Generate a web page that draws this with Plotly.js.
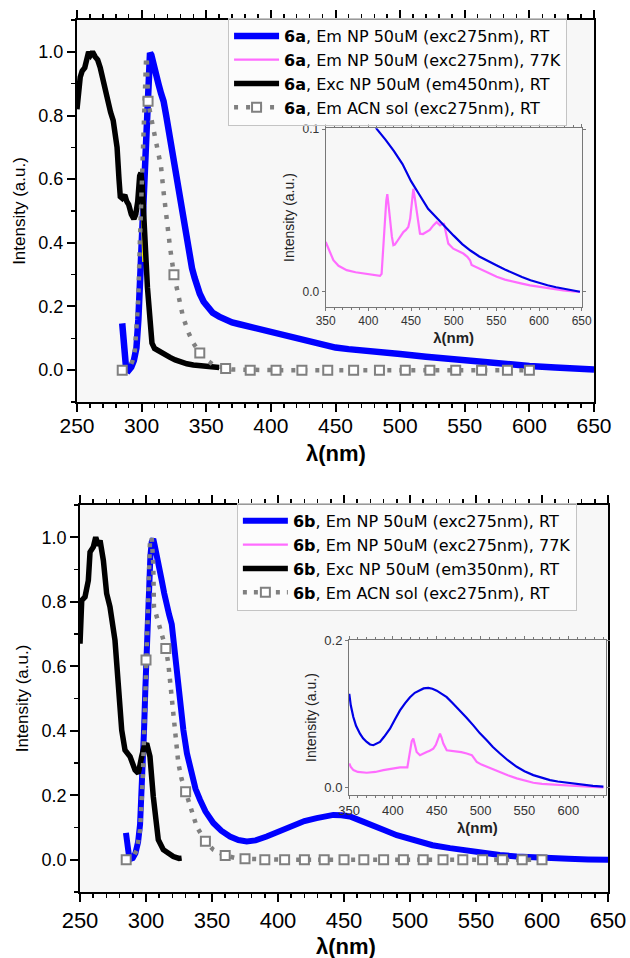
<!DOCTYPE html>
<html>
<head>
<meta charset="utf-8">
<script src="https://cdn.plot.ly/plotly-3.0.1.min.js"></script>
<style>html,body{margin:0;padding:0;background:#fff;}#chart{width:630px;height:958px;}</style>
</head>
<body>
<div id="chart"></div>
<script>
// ---------------- Panel 6a (main) ----------------
var blueA_x = [285,286.5,288,290,292,294,296,297.5,299,300.5,301.5,302.5,303.5,304.5,305.5,306.5,307.5,309,311,313,315,317,319,321,323,325,327,329,331,333,335,337,339,341,343,345,348,351,355,360,365,370,375,380,390,400,410,420,430,440,450,460,470,480,490,500,520,540,560,580,600,620,650];
var blueA_y = [0.147,0.07,0.005,0.0,0.01,0.03,0.07,0.16,0.3,0.45,0.57,0.7,0.82,0.91,0.97,0.997,0.99,0.96,0.93,0.9,0.87,0.845,0.8,0.75,0.7,0.66,0.61,0.55,0.49,0.44,0.395,0.355,0.32,0.29,0.262,0.24,0.215,0.197,0.18,0.168,0.158,0.15,0.145,0.14,0.13,0.12,0.108,0.097,0.087,0.078,0.071,0.066,0.061,0.058,0.055,0.051,0.042,0.034,0.027,0.02,0.013,0.008,0.002];

var blackA_x = [250,251,252.5,254,256,257.5,259,260.5,262,264,266,268,270,272,274,276,278,279.5,281,282.5,283.5,285,287,288.5,290,292,294,295.5,297,298.5,299.5,300.5,301.5,302.5,303.5,304.5,305.5,306.5,308,310,313,316,319,322,326,330,335,340,345,350,355,360];
var blackA_y = [0.82,0.88,0.92,0.94,0.95,0.975,1.0,0.99,1.0,0.985,0.975,0.95,0.91,0.88,0.84,0.81,0.785,0.75,0.7,0.6,0.545,0.54,0.55,0.53,0.52,0.49,0.475,0.49,0.53,0.61,0.62,0.58,0.52,0.43,0.34,0.26,0.19,0.13,0.085,0.068,0.06,0.055,0.048,0.04,0.032,0.025,0.02,0.016,0.013,0.011,0.01,0.008];

var yellowA_x = [300,300.8,301.8];
var yellowA_y = [0.61,0.48,0.34];

var acnA_x = [285,288,291,293,294.8,296,297.4,298.7,300,301.3,302.6,303.5,304,305,307,310,313,315,317,319,322,325,328,332,336,340,345,350,355,360,365,370,384,404,424,444,464,484,504,523,543,563,583,600];
var acnA_y = [0,0.002,0.01,0.03,0.063,0.12,0.22,0.41,0.6,0.79,0.93,0.985,0.98,0.845,0.8,0.745,0.69,0.64,0.56,0.48,0.385,0.3,0.24,0.168,0.12,0.085,0.054,0.033,0.018,0.01,0.005,0.002,0,0,0,0,0,0,0,0,0,0,0,0];
var acnA_squares = [285,305,325,345,365,384,404,424,444,464,484,504,523,543,563,583,600];

// ---------------- Panel 6a (inset) ----------------
var insA_blue_x = [400,410,420,430,440,450,460,470,480,490,500,510,520,530,540,550,560,570,580,590,600,610,620,630,640,648];
var insA_blue_y = [0.1085,0.1,0.0935,0.0865,0.0785,0.068,0.0595,0.051,0.0455,0.0398,0.0345,0.0293,0.0252,0.0217,0.0188,0.0163,0.0137,0.0112,0.0091,0.0071,0.0054,0.004,0.0028,0.0018,0.0009,0.0];
var insA_pink_x = [350,355,359,365,374.6,385,394.1,405,413.6,415.5,417.5,419.5,421,422.2,423.5,425.4,427.5,429.3,431,433.2,437,441,444,446.8,449,450.7,452.7,454.6,457,460.5,464,468.4,472,476.1,480,484,486.5,488.6,491,493.7,499.5,505,511.3,516,519.1,521,523,530.8,540,550.4,560,569.9,580,589.4,600,609,620,628.5,640,648];
var insA_pink_y = [0.0306,0.024,0.0194,0.016,0.0133,0.012,0.0112,0.0105,0.0098,0.011,0.025,0.044,0.056,0.06,0.054,0.044,0.034,0.0286,0.029,0.0306,0.034,0.0367,0.038,0.0398,0.045,0.052,0.0633,0.057,0.048,0.0357,0.0355,0.0367,0.038,0.0408,0.0428,0.0408,0.0418,0.0418,0.036,0.0296,0.0265,0.025,0.0235,0.0215,0.0194,0.0165,0.016,0.0143,0.0115,0.0092,0.0075,0.0061,0.005,0.0039,0.003,0.0023,0.0014,0.0009,0.0003,0.0];

// ---------------- Panel 6b (main) ----------------
var blueB_x = [284.8,286,287,288.5,290,292,294,295.5,296.7,297.7,298.5,299.5,300.5,301.5,302.3,303.3,304.3,305.5,306.8,308.1,310,311.9,313.8,315.7,317.5,319.5,320.5,322,323.3,325.5,328.3,331,334.6,337.5,340.9,345,351,357,363.6,370,376.3,383,391.4,400,409.1,420,429.3,436,441.9,448,454.5,462,470,479.8,490,505,517,530.3,543,555.5,568,580.8,593,606,620,635,650];
var blueB_y = [0.083,0.045,0.015,0.003,0.005,0.02,0.055,0.11,0.196,0.3,0.4,0.53,0.66,0.77,0.866,0.94,0.985,0.995,0.97,0.938,0.9,0.866,0.826,0.784,0.76,0.73,0.69,0.62,0.557,0.48,0.402,0.33,0.268,0.22,0.186,0.15,0.114,0.09,0.072,0.061,0.057,0.06,0.072,0.087,0.103,0.12,0.129,0.136,0.139,0.138,0.134,0.122,0.107,0.093,0.076,0.057,0.045,0.036,0.028,0.0206,0.015,0.0103,0.007,0.005,0.003,0.001,0.0];

var blackB_x = [250,250.8,251.3,253.8,256.3,257.6,260.1,261.9,263.9,265.2,267.7,270.2,272.7,276.5,279,281.6,284.1,287.9,291.7,294.2,296.7,298.5,300.5,303,305.5,307.5,309.3,313.1,320.7,325,327];
var blackB_y = [0.67,0.75,0.804,0.815,0.866,0.954,0.97,1.0,0.974,0.99,0.928,0.825,0.784,0.68,0.557,0.402,0.34,0.32,0.278,0.268,0.32,0.35,0.361,0.32,0.196,0.11,0.062,0.031,0.01,0.004,0.005];

var acnB_x = [285,290,293,295.5,297.5,298.5,300,300.7,301.8,303,304.3,305.5,306,308.1,310.6,313.1,315,316.9,319.5,322,324.5,327,330,333.3,338.4,345,351,360,367,375,390,405,420,435,450,465,480,495,510,525,540,555,570,585,600];
var acnB_y = [0,0.005,0.03,0.093,0.247,0.4,0.619,0.763,0.918,0.985,1.0,0.918,0.784,0.753,0.722,0.69,0.655,0.608,0.505,0.402,0.299,0.25,0.211,0.165,0.103,0.057,0.031,0.013,0.006,0.003,0,0,0,0,0,0,0,0,0,0,0,0,0,0,0];
var acnB_squares = [285,300,315,330,345,360,375,390,405,420,435,450,465,480,495,510,525,540,555,570,585,600];

// ---------------- Panel 6b (inset) ----------------
var insB_blue_x = [350.3,352,354.9,358,362.5,366,370.2,374,377.7,381,385.3,390,396.7,402,408.1,414,419.5,425,430.9,435,440.4,445,450,455,461.4,468,476.5,484,491.7,499,507,514,522.1,531,541.2,550,560.1,570,579.1,588,598.2,608,617.1,628,640];
var insB_blue_y = [0.1276,0.112,0.0959,0.084,0.0733,0.067,0.062,0.0585,0.0575,0.059,0.062,0.069,0.08,0.092,0.105,0.115,0.123,0.129,0.133,0.135,0.1358,0.1345,0.132,0.1285,0.123,0.115,0.105,0.095,0.0846,0.074,0.0642,0.055,0.0462,0.037,0.028,0.022,0.0167,0.0128,0.0099,0.008,0.0063,0.0045,0.0031,0.002,0.001];
var insB_pink_x = [350.3,352,355,360,370.2,380,389.1,400,408.1,416.5,418,420,421.5,423.3,425,427.1,430.9,434,438.5,442,446.1,449,451.5,453.7,455.5,457.5,461.4,466,472.8,478,484.2,490,492.5,495.6,501,507,514,522.1,531,541.2,550,560.1,570,579,590,598,608,617,628,640];
var insB_pink_y = [0.0326,0.028,0.0235,0.021,0.0199,0.021,0.0235,0.0255,0.0272,0.0272,0.04,0.055,0.063,0.0665,0.058,0.0483,0.0439,0.046,0.0483,0.05,0.0529,0.058,0.068,0.0733,0.068,0.0597,0.0506,0.05,0.0497,0.048,0.0462,0.044,0.04,0.0348,0.031,0.028,0.0245,0.0212,0.0165,0.0122,0.009,0.0063,0.0048,0.004,0.003,0.0022,0.0015,0.001,0.0005,0.0];

var legendA = ['<b>6a</b>, Em NP 50uM (exc275nm), RT','<b>6a</b>, Em NP 50uM (exc275nm), 77K','<b>6a</b>, Exc NP 50uM (em450nm), RT','<b>6a</b>, Em ACN sol (exc275nm), RT'];
var legendB = ['<b>6b</b>, Em NP 50uM (exc275nm), RT','<b>6b</b>, Em NP 50uM (exc275nm), 77K','<b>6b</b>, Exc NP 50uM (em350nm), RT','<b>6b</b>, Em ACN sol (exc275nm), RT'];
var xTitle = 'λ(nm)';
var yTitle = 'Intensity (a.u.)';

// ---------------- styles ----------------
var BLUE = '#0000ff', PINK = '#ff6cff', BLACK = '#000000', GRAY = '#808080';
var CLEAR = 'rgba(0,0,0,0)';
function sqFill(xs, sq) { return xs.map(function(v){ return sq.indexOf(v) >= 0 ? '#ffffff' : CLEAR; }); }
function sqLine(xs, sq) { return xs.map(function(v){ return sq.indexOf(v) >= 0 ? GRAY : CLEAR; }); }

var traces = [
  {x: blueA_x, y: blueA_y, xaxis:'x', yaxis:'y', mode:'lines', name: legendA[0], legend:'legend', line:{color:BLUE, width:6.5}},
  {x: insA_pink_x, y: insA_pink_y, xaxis:'x2', yaxis:'y2', mode:'lines', name: legendA[1], legend:'legend', line:{color:PINK, width:2.2}},
  {x: yellowA_x, y: yellowA_y, xaxis:'x', yaxis:'y', mode:'lines', showlegend:false, line:{color:'#f2ee00', width:3.5}, hoverinfo:'skip'},
  {x: blackA_x, y: blackA_y, xaxis:'x', yaxis:'y', mode:'lines', name: legendA[2], legend:'legend', line:{color:BLACK, width:5.5}},
  {x: acnA_x, y: acnA_y, xaxis:'x', yaxis:'y', mode:'lines+markers', name: legendA[3], legend:'legend',
   line:{color:GRAY, width:4.5, dash:'4px,8px'},
   marker:{symbol:'square', size:9, color: sqFill(acnA_x, acnA_squares), line:{width:2, color: sqLine(acnA_x, acnA_squares)}}},
  {x: insA_blue_x, y: insA_blue_y, xaxis:'x2', yaxis:'y2', mode:'lines', showlegend:false, line:{color:'#0000e6', width:2.2}},

  {x: blueB_x, y: blueB_y, xaxis:'x3', yaxis:'y3', mode:'lines', name: legendB[0], legend:'legend2', line:{color:BLUE, width:6}},
  {x: insB_pink_x, y: insB_pink_y, xaxis:'x4', yaxis:'y4', mode:'lines', name: legendB[1], legend:'legend2', line:{color:PINK, width:2.2}},
  {x: blackB_x, y: blackB_y, xaxis:'x3', yaxis:'y3', mode:'lines', name: legendB[2], legend:'legend2', line:{color:BLACK, width:5.5}},
  {x: acnB_x, y: acnB_y, xaxis:'x3', yaxis:'y3', mode:'lines+markers', name: legendB[3], legend:'legend2',
   line:{color:GRAY, width:4.5, dash:'4px,7px'},
   marker:{symbol:'square', size:9, color: sqFill(acnB_x, acnB_squares), line:{width:2, color: sqLine(acnB_x, acnB_squares)}}},
  {x: insB_blue_x, y: insB_blue_y, xaxis:'x4', yaxis:'y4', mode:'lines', showlegend:false, line:{color:'#0000e6', width:2.2}}
];

var FONT = 'Liberation Sans, Arial, sans-serif';
function mainX(domain, anchor, tickSize, labelShift) {
  return {domain: domain, anchor: anchor, range:[250,650], tick0:250, dtick:50, showline:true, linewidth:2, linecolor:'#000',
    mirror:'ticks', ticks:'outside', ticklen:8, tickwidth:2, tickcolor:'#000', showgrid:false, zeroline:false,
    minor:{dtick:10, ticks:'outside', ticklen:4, tickwidth:1.5, tickcolor:'#000', showgrid:false},
    tickfont:{family:FONT, size:tickSize, color:'#000'}, ticklabelstandoff: labelShift};
}
function mainY(domain, anchor) {
  return {domain: domain, anchor: anchor, range:[-0.1,1.1], tick0:0, dtick:0.2, tickformat:'.1f', showline:true, linewidth:2, linecolor:'#000',
    mirror:true, ticks:'outside', ticklen:8, tickwidth:2, tickcolor:'#000', showgrid:false, zeroline:false,
    minor:{dtick:0.1, ticks:'outside', ticklen:4, tickwidth:1.5, tickcolor:'#000', showgrid:false},
    tickfont:{family:FONT, size:18, color:'#000'},
    title:{text: yTitle, font:{family:FONT, size:17, color:'#000'}, standoff:8}};
}
function insX(domain, anchor, range, fsize) {
  return {domain: domain, anchor: anchor, range: range, tick0:350, dtick:50, showline:true, linewidth:1, linecolor:'#777',
    mirror:'ticks', ticks:'outside', ticklen:3, tickwidth:1, tickcolor:'#777', showgrid:false, zeroline:false,
    minor:{dtick:10, ticks:'outside', ticklen:2, tickcolor:'#777', showgrid:false},
    tickfont:{family:FONT, size:fsize, color:'#333'},
    title:{text: xTitle, font:{family:FONT, size:15, color:'#222', weight:'bold'}, standoff:5}};
}
function insY(domain, anchor, range, dtick, fsize) {
  return {domain: domain, anchor: anchor, range: range, tick0:0, dtick:dtick, tickformat:'.1f', showline:true, linewidth:1, linecolor:'#777',
    mirror:'ticks', ticks:'outside', ticklen:3, tickwidth:1, tickcolor:'#777', showgrid:false, zeroline:false,
    tickfont:{family:FONT, size:fsize, color:'#333'},
    title:{text: yTitle, font:{family:FONT, size:14, color:'#222'}, standoff:4}};
}

var legendStyle = function(x, y) {
  return {x:x, y:y, xanchor:'left', yanchor:'top', xref:'paper', yref:'paper', bgcolor:'rgba(255,255,255,0.6)', bordercolor:'#c4c4c4', borderwidth:1,
    font:{family:'DejaVu Sans, sans-serif', size:16, color:'#000'}, itemwidth:45, tracegroupgap:0};
};

var layout = {
  width:630, height:958, margin:{l:0, r:0, t:0, b:0}, paper_bgcolor:'#ffffff', plot_bgcolor:'#f7f7f7',
  showlegend:true,
  xaxis: mainX([0.1222,0.9429], 'y', 21, -4),
  yaxis: mainY([0.5804,0.9791], 'x'),
  xaxis2: insX([0.517,0.9233], 'y2', [350,650], 12),
  yaxis2: insY([0.6798,0.8661], 'x2', [-0.0092,0.1005], 0.1, 12),
  xaxis3: mainX([0.127,0.9651], 'y3', 22, 0),
  yaxis3: mainY([0.0689,0.4729], 'x3'),
  xaxis4: insX([0.554,0.9614], 'y4', [350,642.6], 13),
  yaxis4: insY([0.1701,0.3319], 'x4', [-0.0105,0.201], 0.2, 13),
  legend: legendStyle(0.362, 0.9812),
  legend2: legendStyle(0.376, 0.4750),
  annotations: [
    {text: xTitle, xref:'paper', yref:'paper', x: 336/630, y: 1 - 453/958, xanchor:'center', yanchor:'middle', showarrow:false,
     font:{family:FONT, size:22, color:'#000', weight:'bold'}},
    {text: xTitle, xref:'paper', yref:'paper', x: 346/630, y: 1 - 946/958, xanchor:'center', yanchor:'middle', showarrow:false,
     font:{family:FONT, size:22, color:'#000', weight:'bold'}}
  ]
};

Plotly.newPlot('chart', traces, layout, {staticPlot:true, displayModeBar:false});
</script>
</body>
</html>
